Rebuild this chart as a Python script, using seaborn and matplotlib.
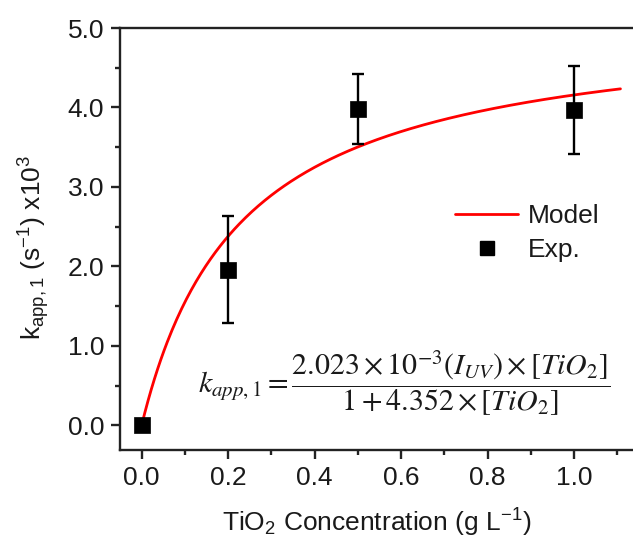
import numpy as np
import pandas as pd
import matplotlib
matplotlib.use("Agg")
import matplotlib.pyplot as plt
from matplotlib.lines import Line2D
from matplotlib.ticker import MultipleLocator, FormatStrFormatter
import seaborn as sns

# Experimental rate constants (x10^3, s^-1) vs. TiO2 loading (g/L)
conc = [0.0, 0.2, 0.5, 1.0]
k_exp = [0.0, 1.96, 3.98, 3.97]
k_err = [0.0, 0.67, 0.44, 0.55]

# Model constants: k = a*I*[TiO2] / (1 + b*[TiO2])
a_coef = 2.023
b_coef = 4.352
i_uv = 11.0
conc_model = np.linspace(0.0, 1.107, 300)

sns.set_theme(style="ticks")
plt.rcParams["font.family"] = ["Liberation Sans", "DejaVu Sans"]
plt.rcParams["mathtext.fontset"] = "custom"
plt.rcParams["mathtext.rm"] = "Liberation Sans"
plt.rcParams["mathtext.it"] = "Liberation Sans:italic"
plt.rcParams["text.color"] = "#1a1a1a"
plt.rcParams["axes.labelcolor"] = "#1a1a1a"
plt.rcParams["xtick.color"] = "#1a1a1a"
plt.rcParams["ytick.color"] = "#1a1a1a"

FS = 19

fig = plt.figure(figsize=(6.33, 5.46), dpi=100)
ax = fig.add_axes([120 / 633, 96 / 546, 513 / 633, 422 / 546])

model_df = pd.DataFrame({
    "conc": conc_model,
    "k": a_coef * i_uv * conc_model / (1 + b_coef * conc_model),
})
exp_df = pd.DataFrame({"conc": conc, "k": k_exp, "err": k_err})

sns.lineplot(data=model_df, x="conc", y="k", color="#ff0000", lw=2.0, ax=ax,
             zorder=2, legend=False)
ax.errorbar(exp_df["conc"], exp_df["k"], yerr=exp_df["err"], fmt="none",
            ecolor="black", elinewidth=1.7, capsize=4, capthick=1.7, zorder=3)
sns.scatterplot(data=exp_df, x="conc", y="k", marker="s", s=120, color="black",
                edgecolor="black", linewidth=0.5, ax=ax, zorder=4, legend=False)

ax.set_xlim(-0.05, 1.136)
ax.set_ylim(-0.31, 5.0)
ax.xaxis.set_major_locator(MultipleLocator(0.2))
ax.xaxis.set_minor_locator(MultipleLocator(0.1))
ax.yaxis.set_major_locator(MultipleLocator(1.0))
ax.yaxis.set_minor_locator(MultipleLocator(0.5))
ax.xaxis.set_major_formatter(FormatStrFormatter("%.1f"))
ax.yaxis.set_major_formatter(FormatStrFormatter("%.1f"))

for side in ["left", "bottom", "top"]:
    ax.spines[side].set_visible(True)
    ax.spines[side].set_linewidth(1.7)
    ax.spines[side].set_color("#222222")
ax.spines["right"].set_visible(False)

ax.tick_params(which="major", direction="out", length=6.5, width=1.7,
               labelsize=FS, color="#222222", pad=5)
ax.tick_params(which="minor", direction="out", length=3.8, width=1.7,
               color="#222222")
ax.tick_params(top=False, right=False, which="both")

ax.set_xlabel(r"TiO$_2$ Concentration (g L$^{\mathregular{-1}}$)", fontsize=FS,
              labelpad=12)
ax.set_ylabel(r"k$_{\mathregular{app,1}}$ (s$^{\mathregular{-1}}$) x10$^3$",
              fontsize=FS)
ax.yaxis.set_label_coords(-0.133, 0.479)

handles = [
    Line2D([], [], color="#ff0000", lw=2.0),
    Line2D([], [], color="black", marker="s", ls="none", markersize=10.5),
]
ax.legend(handles, ["Model", "Exp."], loc="center left",
          bbox_to_anchor=(0.653, 0.514), frameon=False, fontsize=FS,
          handlelength=2.4, handletextpad=0.38, labelspacing=0.4,
          borderaxespad=0, borderpad=0)

eq = (r"$k_{app,1}=\dfrac{2.023\times10^{-3}(I_{UV})\times[TiO_2]}"
      r"{1+4.352\times[TiO_2]}$")
ax.text(0.553, 0.159, eq, transform=ax.transAxes, ha="center", va="center",
        fontsize=21.5, math_fontfamily="stix", color="#1a1a1a")

fig.savefig("out.png", dpi=100)
